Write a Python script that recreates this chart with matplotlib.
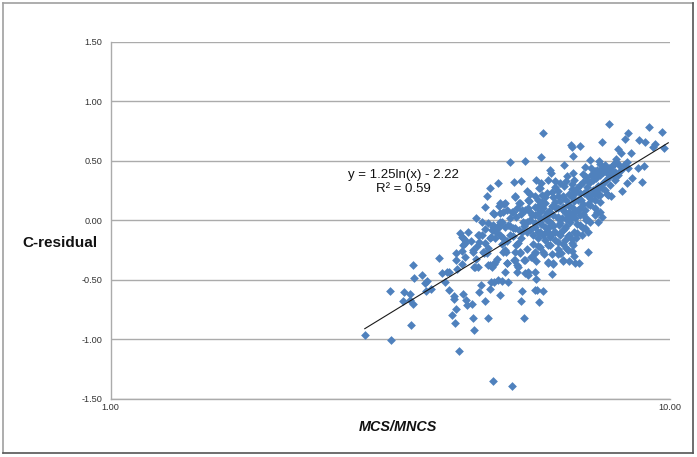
import matplotlib
matplotlib.use("Agg")
import matplotlib.pyplot as plt
import numpy as np
from matplotlib.lines import Line2D

plt.rcParams['font.family'] = ['Liberation Sans', 'DejaVu Sans']

# Values: log10(MCS/MNCS) and C-residual
low_log = [.455,.502,.500,.541,.543,.557,.525,.536,.523,.536,
 .541,.538,.564,.566,.563,.573,.588,.593,.602,.606,
 .598,.606,.614,.614,.631,.636,.638,.647,.618,.611,
 .616,.649,.650,.675,.623,.684,.718,.740,.670,.697,
 .659,.663,.679,.681,.686,.693,.700,.711,.706,.736,
 .734,.759,.763,.774,.767,.761,.790,.759,.741,.747,
 .747,.727,.618,.618,.629,.620,.634,.629,.649,.654,
 .650,.657,.675,.682,.686,.691,.709,.702,.707,.668,
 .673,.724,.733,.722,.727,.729,.740,.752,.761,.759,
 .774,.783,.792,.801,.806,.809,.820,.829,.831,.838,
 .826,.854]
low_res = [-.963,-1.005,-.594,-.376,-.485,-.460,-.602,-.619,-.678,-.669,
 -.703,-.879,-.594,-.510,-.527,-.577,-.317,-.443,-.435,-.435,
 -.519,-.586,-.636,-.661,-.619,-.669,-.711,-.703,-.745,-.795,
 -.862,-.820,-.921,-.820,-1.097,-1.349,-1.391,-.820,-.678,-.628,
 -.602,-.544,-.577,-.519,-.519,-.502,-.510,-.519,-.435,-.594,
 -.678,-.586,-.586,-.594,-.686,-.493,-.451,-.435,-.443,-.460,
 -.435,-.435,-.334,-.275,-.368,-.410,-.309,-.258,-.267,-.325,
 -.393,-.393,-.376,-.393,-.368,-.325,-.359,-.267,-.267,-.275,
 -.275,-.267,-.267,-.334,-.376,-.393,-.334,-.309,-.342,-.275,
 -.267,-.359,-.368,-.284,-.275,-.342,-.342,-.300,-.359,-.359,
 -.258,-.267]

high_log = [.892,.774,.824,.826,.840,.827,.879,.963,.987,.926,
 .920,.945,.956,.974,.970,.990,.908,.913,.931,.770,
 .715,.741,.811,.858,.874,.904,.924,.849,.867,.786,
 .788,.827,.817,.954,.944,.933,.924,.951,.915,.888,
 .895,.693,.679,.673,.722,.734,.761,.783,.795,.767,
 .745,.724,.801,.811,.826,.670,.695,.704,.731,.747,
 .772,.654,.665,.686,.702,.718,.727,.741,.763,.777,
 .792,.629,.634,.631,.657,.684,.684,.697,.715,.724,
 .741,.754,.768,.783]
high_res = [.807,.732,.631,.614,.622,.539,.656,.782,.740,.732,
 .681,.673,.656,.639,.614,.606,.597,.564,.564,.530,
 .488,.497,.463,.505,.497,.514,.488,.446,.413,.421,
 .396,.396,.371,.455,.438,.354,.312,.320,.245,.220,
 .203,.312,.270,.203,.320,.329,.337,.337,.329,.270,
 .245,.203,.245,.287,.304,.111,.119,.136,.144,.169,
 .211,.018,-.015,.052,.069,.069,.102,.086,.111,.144,
 .195,-.141,-.166,-.208,-.124,-.057,-.082,-.015,-.049,-.065,
 -.023,.044,.018,.061]

band_log = [.625,.631,.634,.659,.649,.670,.666,.675,.688,.702,
 .706,.729,.733,.709,.688,.679,.652,.724,.741,.759,
 .754,.768,.783,.804,.786,.768,.792,.813,.818,.783,
 .792,.809,.684,.697,.709,.720,.736,.747,.759,.772,
 .774,.765,.781,.684,.682,.700,.711,.720,.738,.745,
 .693,.759,.768,.750,.736,.765,.777,.783,.697,.679,
 .715,.781,.768,.697,.706,.733,.749,.724,.765,.777,
 .768,.786,.792,.797,.802,.808,.813,.818,.826,.831,
 .836,.842,.847,.852,.858,.863,.868,.876,.881,.886,
 .892,.897,.902,.908,.913,.919,.926,.777,.786,.795,
 .804,.813,.822,.831,.840,.849,.858,.867,.876,.885,
 .894,.902,.774,.783,.792,.801,.809,.818,.827,.836,
 .845,.854,.863,.872,.881,.890,.899,.815,.826,.833,
 .843,.849,.858,.867,.876,.851,.840,.829,.818,.854,
 .879,.872,.867,.845,.834,.827,.870,.890,.872,.858]
band_res = [-.107,-.149,-.191,-.124,-.250,-.191,-.267,-.233,-.149,-.149,
 -.250,-.191,-.275,-.359,-.351,-.376,-.393,-.334,-.334,-.267,
 -.309,-.225,-.208,-.275,-.141,-.099,-.107,-.166,-.250,-.351,
 -.359,-.334,.061,.061,.086,.069,.086,.102,.111,.153,
 .102,.061,.061,-.040,-.082,-.015,-.040,-.065,-.015,-.015,
 -.065,-.023,-.015,-.082,-.099,-.099,-.057,-.107,-.124,-.149,
 -.124,.228,.270,.144,.144,.144,.161,.195,.169,.195,
 .128,-.015,.044,.102,-.040,.018,.069,.128,.195,.237,
 .086,.169,.228,.279,.320,.337,.354,.379,.404,.421,
 .438,.455,.404,.379,.421,.463,.438,-.166,-.208,-.166,
 -.124,-.065,-.015,.018,.044,.086,.128,.169,.211,.253,
 .295,.337,-.124,-.065,-.049,.018,.086,.044,.102,.169,
 .136,.203,.253,.287,.312,.354,.379,-.233,-.191,-.149,
 -.124,-.065,-.015,.044,.069,.018,-.040,-.099,-.132,-.099,
 .027,-.015,.102,-.065,-.107,-.208,.069,.211,.211,.211]

core_log = [.80,.805,.81,.815,.82,.825,.83,.835,.84,.845,.85,.855,.86,.865,.87,.875,.88,.885,.89,.895,.90,.905,.91,
 .78,.785,.79,.795,.80,.805,.81,.815,.82,.825,.83,.835,.84,.845,.85,.855,.86,.865,.87,.875,.88,.885,
 .74,.745,.75,.755,.76,.765,.77,.775,.78,.785,.79,.795,.80,.805,.81,.815,.82,.825,
 .70,.71,.72,.725,.73,.735,.745,.755,.765,.775,.79,.80,
 .66,.665,.67,.675,.68,.69,.695,.705,.715,.725,.735,.75,.76,.77,.655,.645,.64,
 .75,.76,.79,.80,.81,.82,.83,.84,.85,.77,.795,.805,.815,.83,.845,.86,.875]
core_res = [.10,.16,.20,.17,.22,.26,.16,.27,.30,.32,.36,.33,.38,.39,.42,.41,.44,.46,.39,.42,.47,.49,.46,
 .0,.05,.12,.15,.03,-.02,-.08,.01,.07,.03,.06,-.03,.10,.05,.0,.14,.18,.22,.25,.15,.27,.33,
 -.05,-.10,.0,-.12,-.06,-.15,-.03,.03,-.09,.08,-.03,-.10,-.18,-.11,-.20,-.05,-.12,-.16,
 -.20,-.17,-.13,-.21,-.08,-.15,-.24,-.20,-.22,-.28,-.28,-.24,
 -.18,-.12,-.07,-.02,-.14,-.10,-.04,-.06,.02,.03,.05,.07,.04,.08,-.22,-.17,-.10,
 .22,.20,.24,.20,.11,.13,.22,.23,.24,.31,.28,.31,.33,.34,.39,.44,.47]

trend_x = [2.85, 9.95]
trend_y = [-0.91, 0.65]
y_ticks = [-1.5, -1.0, -0.5, 0.0, 0.5, 1.0, 1.5]
x_ticks = [1, 10]
x_tick_labels = ["1.00", "10.00"]
equation = "y = 1.25ln(x) - 2.22\nR² = 0.59"
x_title = "MCS/MNCS"
y_title = "C-residual"

W, H = 697, 457
fig = plt.figure(figsize=(W/100, H/100), dpi=100, facecolor='white')
ax = fig.add_axes([110.5/W, 1-399/H, 559/W, 357.5/H])

xs = 10**np.array(low_log + high_log + band_log + core_log)
ys = np.array(low_res + high_res + band_res + core_res)
ax.scatter(xs, ys, marker='D', s=20, color='#4f81bd', linewidths=0, zorder=3, clip_on=False)
ax.plot(trend_x, trend_y, color='#1a1a1a', lw=0.8, zorder=4)

ax.set_xscale('log')
ax.set_xlim(1, 10)
ax.set_ylim(-1.5, 1.5)
ax.set_yticks(y_ticks)
ax.set_yticklabels([f"{v:.2f}" for v in y_ticks])
ax.set_xticks(x_ticks)
ax.set_xticklabels(x_tick_labels)
ax.xaxis.set_minor_locator(matplotlib.ticker.NullLocator())
ax.tick_params(length=0, labelsize=6.6, labelcolor='#333333')
ax.tick_params(axis='y', pad=6)
ax.tick_params(axis='x', pad=3)
ax.grid(axis='y', color='#ababab', lw=1, zorder=1)
ax.set_axisbelow(True)
for s in ['top', 'right']:
    ax.spines[s].set_visible(False)
for s in ['left', 'bottom']:
    ax.spines[s].set_color('#ababab')
    ax.spines[s].set_linewidth(1)

fig.text(403/W, 1-182/H, equation, ha='center', va='center', fontsize=9.5, color='#111111', linespacing=1.3)
fig.text(397.5/W, 1-427/H, x_title, ha='center', va='center', fontsize=10.4, fontweight='bold', style='italic', color='#111111')
fig.text(60/W, 1-243/H, y_title, ha='center', va='center', fontsize=11, fontweight='bold', color='#111111')

L, R, T, B = 3/W, 692.7/W, 1-3/H, 1-453/H
for xd, yd, c in [([L, R], [T, T], '#a0a0a0'), ([L, L], [T, B], '#a0a0a0'),
                  ([R, R], [T, B], '#555555'), ([L, R], [B, B], '#555555')]:
    fig.add_artist(Line2D(xd, yd, color=c, lw=1.2, transform=fig.transFigure))
fig.savefig('out.png', dpi=100)
